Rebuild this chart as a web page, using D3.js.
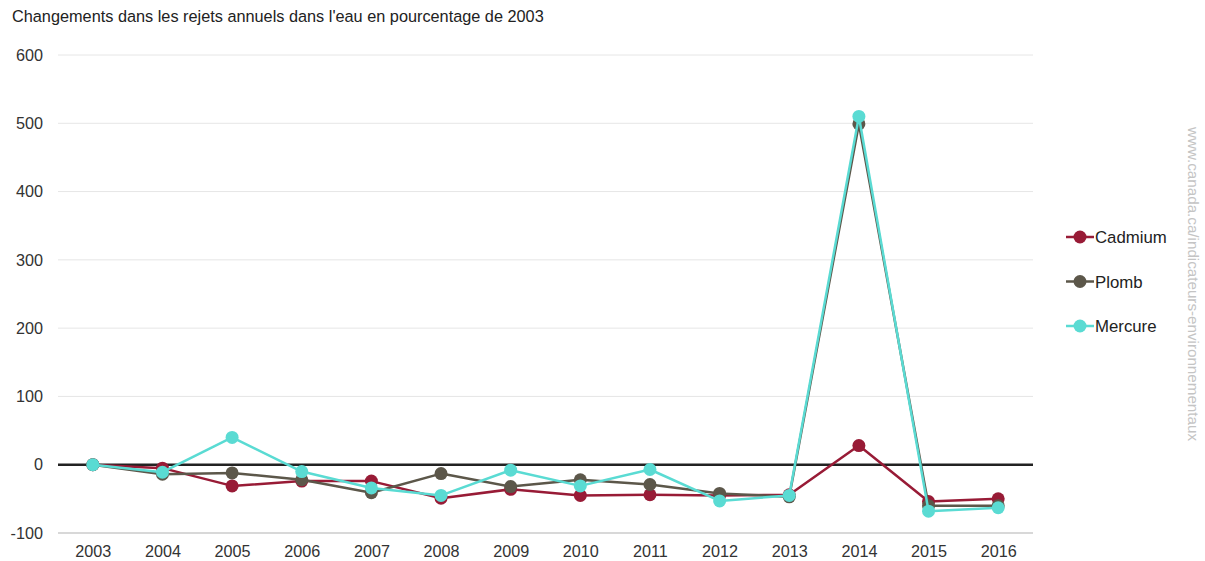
<!DOCTYPE html>
<html>
<head>
<meta charset="utf-8">
<script src="https://cdn.jsdelivr.net/npm/d3@7"></script>
<style>
  html, body { margin: 0; padding: 0; background: #fff; }
  svg { display: block; font-family: "Liberation Sans", Arial, sans-serif; }
</style>
</head>
<body>
<svg id="chart" width="1205" height="561"></svg>
<script>
// Years on the horizontal axis
const years = ["2003","2004","2005","2006","2007","2008","2009","2010","2011","2012","2013","2014","2015","2016"];

// Change in annual releases to water, % relative to 2003
const cadmium = [0, -5, -31, -24, -24, -49, -36, -45, -44, -45, -44, 28, -54, -50];
const plomb   = [0, -14, -12, -22, -41, -13, -32, -22, -29, -42, -47, 499, -60, -60];
const mercure = [0, -11, 40, -10, -34, -45, -8, -31, -7, -53, -45, 510, -68, -63];

const yTicks = [-100, 0, 100, 200, 300, 400, 500, 600];

const seriesNames = ["Cadmium", "Plomb", "Mercure"];
const seriesColors = ["#981b36", "#5c574a", "#5adbd3"];
const seriesData = [cadmium, plomb, mercure];

const svg = d3.select("#chart");
const plotLeft = 58, plotRight = 1033, plotTop = 55, plotBottom = 533;

const x = d3.scalePoint().domain(years).range([plotLeft, plotRight]).padding(0.5);
const y = d3.scaleLinear().domain([-100, 600]).range([plotBottom, plotTop]);

// Title
svg.append("text")
  .attr("x", 12).attr("y", 22)
  .attr("font-size", 16.3).attr("fill", "#222")
  .text("Changements dans les rejets annuels dans l'eau en pourcentage de 2003");

// Horizontal grid lines
svg.append("g").selectAll("line").data(yTicks).join("line")
  .attr("x1", plotLeft).attr("x2", plotRight)
  .attr("y1", d => y(d)).attr("y2", d => y(d))
  .attr("stroke", d => d === -100 ? "#d8d8d8" : "#e6e6e6")
  .attr("stroke-width", d => d === -100 ? 2 : 1);

// Y axis labels (plain hyphen for negatives)
const yAxis = d3.axisLeft(y).tickValues(yTicks).tickSize(0).tickPadding(0)
  .tickFormat(d => String(d));
const gy = svg.append("g").attr("transform", `translate(${plotLeft - 15},0)`).call(yAxis);
gy.select(".domain").remove();
gy.selectAll("text").attr("font-size", 16.2).attr("fill", "#333")
  .attr("font-family", "Liberation Sans, Arial, sans-serif");

// X axis labels
const xAxis = d3.axisBottom(x).tickSize(0).tickPadding(0);
const gx = svg.append("g").attr("transform", `translate(0,${plotBottom + 12})`).call(xAxis);
gx.select(".domain").remove();
gx.selectAll("text").attr("font-size", 16.2).attr("fill", "#333")
  .attr("font-family", "Liberation Sans, Arial, sans-serif");

// Zero reference line
svg.append("line")
  .attr("x1", plotLeft).attr("x2", plotRight)
  .attr("y1", y(0)).attr("y2", y(0))
  .attr("stroke", "#222").attr("stroke-width", 2.5);

// Series lines and markers
const line = d3.line().x((d, i) => x(years[i])).y(d => y(d));
seriesData.forEach((vals, s) => {
  const g = svg.append("g");
  g.append("path").datum(vals)
    .attr("d", line).attr("fill", "none")
    .attr("stroke", seriesColors[s]).attr("stroke-width", 2.5)
    .attr("stroke-linejoin", "round");
  g.selectAll("circle").data(vals).join("circle")
    .attr("cx", (d, i) => x(years[i])).attr("cy", d => y(d))
    .attr("r", 6.5).attr("fill", seriesColors[s]);
});

// Legend
const legend = svg.append("g");
seriesNames.forEach((name, i) => {
  const ly = 237 + i * 44.5;
  legend.append("line").attr("x1", 1066).attr("x2", 1094).attr("y1", ly).attr("y2", ly)
    .attr("stroke", seriesColors[i]).attr("stroke-width", 2.5);
  legend.append("circle").attr("cx", 1080).attr("cy", ly).attr("r", 6.5).attr("fill", seriesColors[i]);
  legend.append("text").attr("x", 1095).attr("y", ly + 6)
    .attr("font-size", 16.8).attr("fill", "#222").text(name);
});

// Source credit, rotated
svg.append("text")
  .attr("transform", "translate(1188,284) rotate(90)")
  .attr("text-anchor", "middle")
  .attr("font-size", 15.2).attr("fill", "#c4c4c4")
  .text("www.canada.ca/indicateurs-environnementaux");
</script>
</body>
</html>
